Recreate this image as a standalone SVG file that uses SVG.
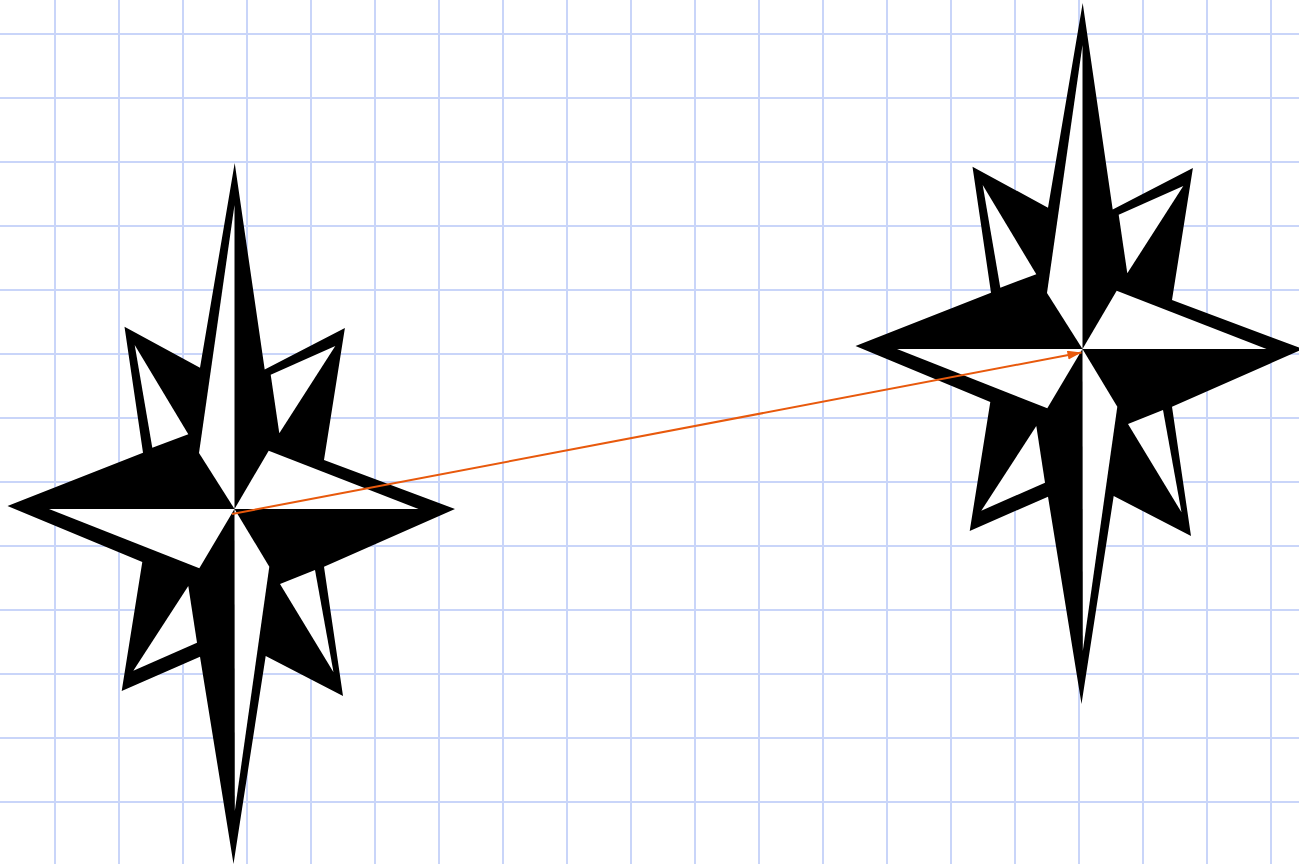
<svg xmlns="http://www.w3.org/2000/svg" width="1299" height="864" viewBox="0 0 1299 864">
<style>
.grid line{stroke:#c9d5f9;stroke-width:2}
.k{fill:#000}
.w{fill:#fff}
.conn{stroke:#e8590c;stroke-width:2;fill:none}
</style>
<defs>
<marker id="arrow" markerUnits="userSpaceOnUse" markerWidth="16" markerHeight="10" refX="14" refY="4.5" orient="auto"><path d="M0 0L14 4.5L0 9Z" fill="#e8590c"/></marker>
<g id="star">
<polygon class="k" points="234.7,163 264.7,369.5 344.9,328 324,460 455,509 324,566.7 343,696 265.7,656 233.5,864 200,656.7 121.7,691 142.3,562 7.5,506 143,452.7 124.5,326.7 200,367.7"/>
<polygon class="w" points="234.5,205 199,453 234.5,509"/>
<polygon class="w" points="234.5,509 268.7,450.7 418.5,509"/>
<polygon class="w" points="270.7,374.7 335.3,346 279.3,433.3"/>
<polygon class="w" points="134.7,345 188.3,434.3 152.3,447.7"/>
<polygon class="w" points="49,509 234.5,509 199.3,568.3"/>
<polygon class="w" points="234.5,509 269.3,566.7 234.8,811"/>
<polygon class="w" points="188.3,586 197,642.7 133.3,670.7"/>
<polygon class="w" points="280,584 315,570 333.5,672.3"/>
</g>
</defs>
<rect width="1299" height="864" fill="#fff"/>
<g class="grid">
<line x1="55" y1="0" x2="55" y2="864"/><line x1="119" y1="0" x2="119" y2="864"/><line x1="183" y1="0" x2="183" y2="864"/><line x1="247" y1="0" x2="247" y2="864"/><line x1="311" y1="0" x2="311" y2="864"/><line x1="375" y1="0" x2="375" y2="864"/><line x1="439" y1="0" x2="439" y2="864"/><line x1="503" y1="0" x2="503" y2="864"/><line x1="567" y1="0" x2="567" y2="864"/><line x1="631" y1="0" x2="631" y2="864"/><line x1="695" y1="0" x2="695" y2="864"/><line x1="759" y1="0" x2="759" y2="864"/><line x1="823" y1="0" x2="823" y2="864"/><line x1="887" y1="0" x2="887" y2="864"/><line x1="951" y1="0" x2="951" y2="864"/><line x1="1015" y1="0" x2="1015" y2="864"/><line x1="1079" y1="0" x2="1079" y2="864"/><line x1="1143" y1="0" x2="1143" y2="864"/><line x1="1207" y1="0" x2="1207" y2="864"/><line x1="1271" y1="0" x2="1271" y2="864"/>
<line x1="0" y1="34" x2="1299" y2="34"/><line x1="0" y1="98" x2="1299" y2="98"/><line x1="0" y1="162" x2="1299" y2="162"/><line x1="0" y1="226" x2="1299" y2="226"/><line x1="0" y1="290" x2="1299" y2="290"/><line x1="0" y1="354" x2="1299" y2="354"/><line x1="0" y1="418" x2="1299" y2="418"/><line x1="0" y1="482" x2="1299" y2="482"/><line x1="0" y1="546" x2="1299" y2="546"/><line x1="0" y1="610" x2="1299" y2="610"/><line x1="0" y1="674" x2="1299" y2="674"/><line x1="0" y1="738" x2="1299" y2="738"/><line x1="0" y1="802" x2="1299" y2="802"/>
</g>
<g id="star-left"><use href="#star"/></g>
<g id="star-right"><use href="#star" transform="translate(848 -160)"/></g>
<g id="connectors"><line class="conn" x1="232" y1="514" x2="1081.5" y2="352.5" marker-end="url(#arrow)"/></g>
</svg>
